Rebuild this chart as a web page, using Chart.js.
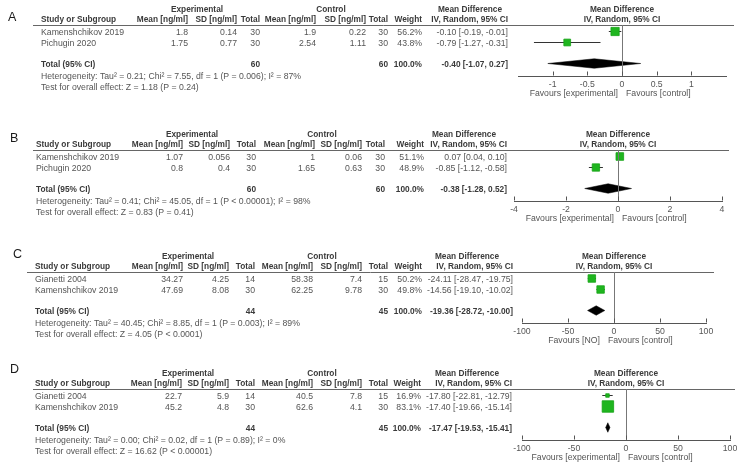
<!DOCTYPE html>
<html>
<head>
<meta charset="utf-8">
<script src="https://cdn.jsdelivr.net/npm/chart.js@4.4.1/dist/chart.umd.min.js"></script>
<style>
  html, body { margin: 0; padding: 0; background: #fff; }
  #wrap { position: relative; width: 744px; height: 467px; overflow: hidden; }
  canvas { position: absolute; left: 0; }
</style>
</head>
<body>
<div id="wrap"></div>
<script>
// ---- data ----
const studiesA = ['Kamenshchikov 2019', 'Pichugin 2020'];
const expMeanA = [1.8, 1.75], expSdA = [0.14, 0.77], expNA = [30, 30];
const ctlMeanA = [1.9, 2.54], ctlSdA = [0.22, 1.11], ctlNA = [30, 30];
const weightA = [56.2, 43.8];
const mdA = [-0.10, -0.79], loA = [-0.19, -1.27], hiA = [-0.01, -0.31];
const totalA = [-0.40, -1.07, 0.27];
const totalNA = [60, 60];
const hetA = 'Heterogeneity: Tau\u00b2 = 0.21; Chi\u00b2 = 7.55, df = 1 (P = 0.006); I\u00b2 = 87%';
const testA = 'Test for overall effect: Z = 1.18 (P = 0.24)';
const ticksA = [-1, -0.5, 0, 0.5, 1];

const studiesB = ['Kamenshchikov 2019', 'Pichugin 2020'];
const expMeanB = [1.07, 0.8], expSdB = [0.056, 0.4], expNB = [30, 30];
const ctlMeanB = [1, 1.65], ctlSdB = [0.06, 0.63], ctlNB = [30, 30];
const weightB = [51.1, 48.9];
const mdB = [0.07, -0.85], loB = [0.04, -1.12], hiB = [0.10, -0.58];
const totalB = [-0.38, -1.28, 0.52];
const totalNB = [60, 60];
const hetB = 'Heterogeneity: Tau\u00b2 = 0.41; Chi\u00b2 = 45.05, df = 1 (P < 0.00001); I\u00b2 = 98%';
const testB = 'Test for overall effect: Z = 0.83 (P = 0.41)';
const ticksB = [-4, -2, 0, 2, 4];

const studiesC = ['Gianetti 2004', 'Kamenshchikov 2019'];
const expMeanC = [34.27, 47.69], expSdC = [4.25, 8.08], expNC = [14, 30];
const ctlMeanC = [58.38, 62.25], ctlSdC = [7.4, 9.78], ctlNC = [15, 30];
const weightC = [50.2, 49.8];
const mdC = [-24.11, -14.56], loC = [-28.47, -19.10], hiC = [-19.75, -10.02];
const totalC = [-19.36, -28.72, -10.00];
const totalNC = [44, 45];
const hetC = 'Heterogeneity: Tau\u00b2 = 40.45; Chi\u00b2 = 8.85, df = 1 (P = 0.003); I\u00b2 = 89%';
const testC = 'Test for overall effect: Z = 4.05 (P < 0.0001)';
const ticksC = [-100, -50, 0, 50, 100];

const studiesD = ['Gianetti 2004', 'Kamenshchikov 2019'];
const expMeanD = [22.7, 45.2], expSdD = [5.9, 4.8], expND = [14, 30];
const ctlMeanD = [40.5, 62.6], ctlSdD = [7.8, 4.1], ctlND = [15, 30];
const weightD = [16.9, 83.1];
const mdD = [-17.80, -17.40], loD = [-22.81, -19.66], hiD = [-12.79, -15.14];
const totalD = [-17.47, -19.53, -15.41];
const totalND = [44, 45];
const hetD = 'Heterogeneity: Tau\u00b2 = 0.00; Chi\u00b2 = 0.02, df = 1 (P = 0.89); I\u00b2 = 0%';
const testD = 'Test for overall effect: Z = 16.62 (P < 0.00001)';
const ticksD = [-100, -50, 0, 50, 100];

const favoursExp = ['Favours [experimental]', 'Favours [experimental]', 'Favours [NO]', 'Favours [experimental]'];
const favoursCtl = 'Favours [control]';

// ---- layout (pixels) ----
const FONT = '"Liberation Sans", Arial, sans-serif';
const ROW = 11;            // px between study rows
const TOTAL_ROW = 2.91;    // total row, in row units
const XS_H = 14;           // height of x scale box

const panels = [
  { label: 'A', top: 0, h: 112, line: 25, letter: [8, 17.5], axis: [518, 726], range: [-1.5, 1.5], split: 0,
    cols: { start: 33, end: 734, study: 41, eM: 188, eS: 237, eN: 260, cM: 316, cS: 366, cN: 388, w: 422, ci: 508, exp: 197, ctl: 331, md: 470 },
    studies: studiesA, eMean: expMeanA, eSd: expSdA, eN: expNA, cMean: ctlMeanA, cSd: ctlSdA, cN: ctlNA,
    weight: weightA, md: mdA, lo: loA, hi: hiA, total: totalA, totalN: totalNA, het: hetA, test: testA, ticks: ticksA },
  { label: 'B', top: 112, h: 116, line: 150, letter: [10, 139], axis: [514, 722], range: [-4, 4], split: 0,
    cols: { start: 33, end: 729, study: 36, eM: 183, eS: 230, eN: 256, cM: 315, cS: 362, cN: 385, w: 424, ci: 507, exp: 192, ctl: 322, md: 464 },
    studies: studiesB, eMean: expMeanB, eSd: expSdB, eN: expNB, cMean: ctlMeanB, cSd: ctlSdB, cN: ctlNB,
    weight: weightB, md: mdB, lo: loB, hi: hiB, total: totalB, totalN: totalNB, het: hetB, test: testB, ticks: ticksB },
  { label: 'C', top: 228, h: 117, line: 272, letter: [13, 255], axis: [522, 706], range: [-100, 100], split: -11,
    cols: { start: 27, end: 714, study: 35, eM: 183, eS: 229, eN: 255, cM: 313, cS: 362, cN: 388, w: 422, ci: 513, exp: 188, ctl: 322, md: 467 },
    studies: studiesC, eMean: expMeanC, eSd: expSdC, eN: expNC, cMean: ctlMeanC, cSd: ctlSdC, cN: ctlNC,
    weight: weightC, md: mdC, lo: loC, hi: hiC, total: totalC, totalN: totalNC, het: hetC, test: testC, ticks: ticksC },
  { label: 'D', top: 345, h: 122, line: 389, letter: [10, 370], axis: [522, 730], range: [-100, 100], split: -2,
    cols: { start: 33, end: 735, study: 35, eM: 182, eS: 229, eN: 255, cM: 313, cS: 362, cN: 388, w: 421, ci: 512, exp: 188, ctl: 322, md: 467 },
    studies: studiesD, eMean: expMeanD, eSd: expSdD, eN: expND, cMean: ctlMeanD, cSd: ctlSdD, cN: ctlND,
    weight: weightD, md: mdD, lo: loD, hi: hiD, total: totalD, totalN: totalND, het: hetD, test: testD, ticks: ticksD }
];

const fmt2 = v => v.toFixed(2);
const ciText = (m, l, h) => `${fmt2(m)} [${fmt2(l)}, ${fmt2(h)}]`;

function tableText(P) {
  return {
    id: 'tableText' + P.label,
    afterDraw(chart) {
      const ctx = chart.ctx, xs = chart.scales.x, ys = chart.scales.y, area = chart.chartArea, c = P.cols;
      const reg = '8.7px ' + FONT, bold = 'bold 8.3px ' + FONT;
      const txt = (s, x, y, align, font, col) => {
        ctx.font = font; ctx.textAlign = align; ctx.fillStyle = col; ctx.fillText(s, x, y);
      };
      ctx.save();
      ctx.textBaseline = 'middle';

      // panel letter
      txt(P.label, P.letter[0], P.letter[1] - P.top, 'left', '12.5px ' + FONT, '#1a1a1a');

      // header rule
      const ly = Math.round(area.top) + 0.5;
      ctx.strokeStyle = '#666'; ctx.lineWidth = 1;
      ctx.beginPath(); ctx.moveTo(c.start, ly); ctx.lineTo(c.end, ly); ctx.stroke();

      // line of no effect
      const x0 = Math.round(xs.getPixelForValue(0)) + 0.5;
      ctx.strokeStyle = '#777';
      ctx.beginPath(); ctx.moveTo(x0, area.top); ctx.lineTo(x0, area.bottom); ctx.stroke();

      // tick marks pointing up
      const by = Math.round(area.bottom) - 0.5;
      ctx.strokeStyle = '#555';
      ctx.beginPath();
      xs.ticks.forEach(t => {
        const x = Math.round(xs.getPixelForValue(t.value)) + 0.5;
        ctx.moveTo(x, by); ctx.lineTo(x, by - 4);
      });
      ctx.stroke();

      // headers
      const hk = '#3a3a3a', tk = '#555';
      const h1 = area.top - 15, h2 = area.top - 5;
      txt('Experimental', c.exp, h1, 'center', bold, hk);
      txt('Control', c.ctl, h1, 'center', bold, hk);
      txt('Mean Difference', c.md, h1, 'center', bold, hk);
      txt('Mean Difference', xs.getPixelForValue(0), h1, 'center', bold, hk);
      txt('Study or Subgroup', c.study, h2, 'left', bold, hk);
      txt('Mean [ng/ml]', c.eM, h2, 'right', bold, hk);
      txt('SD [ng/ml]', c.eS, h2, 'right', bold, hk);
      txt('Total', c.eN, h2, 'right', bold, hk);
      txt('Mean [ng/ml]', c.cM, h2, 'right', bold, hk);
      txt('SD [ng/ml]', c.cS, h2, 'right', bold, hk);
      txt('Total', c.cN, h2, 'right', bold, hk);
      txt('Weight', c.w, h2, 'right', bold, hk);
      txt('IV, Random, 95% CI', c.ci, h2, 'right', bold, hk);
      txt('IV, Random, 95% CI', xs.getPixelForValue(0), h2, 'center', bold, hk);

      // study rows
      P.studies.forEach((s, i) => {
        const y = ys.getPixelForValue(i) + 1.5;
        txt(s, c.study, y, 'left', reg, tk);
        txt(String(P.eMean[i]), c.eM, y, 'right', reg, tk);
        txt(String(P.eSd[i]), c.eS, y, 'right', reg, tk);
        txt(String(P.eN[i]), c.eN, y, 'right', reg, tk);
        txt(String(P.cMean[i]), c.cM, y, 'right', reg, tk);
        txt(String(P.cSd[i]), c.cS, y, 'right', reg, tk);
        txt(String(P.cN[i]), c.cN, y, 'right', reg, tk);
        txt(P.weight[i].toFixed(1) + '%', c.w, y, 'right', reg, tk);
        txt(ciText(P.md[i], P.lo[i], P.hi[i]), c.ci, y, 'right', reg, tk);
      });

      // total row
      const ty = ys.getPixelForValue(TOTAL_ROW) + 1;
      txt('Total (95% CI)', c.study, ty, 'left', bold, hk);
      txt(String(P.totalN[0]), c.eN, ty, 'right', bold, hk);
      txt(String(P.totalN[1]), c.cN, ty, 'right', bold, hk);
      txt('100.0%', c.w, ty, 'right', bold, hk);
      txt(ciText(P.total[0], P.total[1], P.total[2]), c.ci, ty, 'right', bold, hk);
      txt(P.het, c.study, ty + 12.5, 'left', reg, tk);
      txt(P.test, c.study, ty + 23, 'left', reg, tk);

      // favours labels
      const sx = xs.getPixelForValue(P.split), fy = area.bottom + 17.5;
      txt(favoursExp[panels.indexOf(P)], sx - 4, fy, 'right', reg, tk);
      txt(favoursCtl, sx + 4, fy, 'left', reg, tk);
      ctx.restore();
    }
  };
}

function buildPanel(P) {
  const cv = document.createElement('canvas');
  cv.width = 744; cv.height = P.h;
  cv.style.top = P.top + 'px';
  document.getElementById('wrap').appendChild(cv);

  const padTop = P.line - P.top;
  const axisLocal = P.line + 51 - P.top;
  const padBottom = P.h - axisLocal - XS_H;
  const firstY = 6.5 / ROW;

  const datasets = [];
  // squares first so they sit on top of the CI lines
  datasets.push({
    data: P.md.map((m, i) => ({ x: m, y: i })),
    pointStyle: 'rect',
    pointRadius: P.weight.map(w => (w * 0.12 + 1.5) / Math.SQRT2),
    backgroundColor: '#1fb51f', borderColor: '#17a317', borderWidth: 0.8
  });
  P.md.forEach((m, i) => {
    datasets.push({
      data: [{ x: P.lo[i], y: i }, { x: P.hi[i], y: i }],
      showLine: true, borderColor: '#333', borderWidth: 1, pointRadius: 0
    });
  });
  const t = P.total, dh = 0.43;
  datasets.push({
    data: [
      { x: t[1], y: TOTAL_ROW }, { x: t[0], y: TOTAL_ROW - dh },
      { x: t[2], y: TOTAL_ROW }, { x: t[0], y: TOTAL_ROW + dh }, { x: t[1], y: TOTAL_ROW }
    ],
    showLine: true, fill: 'shape', backgroundColor: '#000', borderColor: '#000',
    borderWidth: 0.5, pointRadius: 0, tension: 0
  });

  new Chart(cv, {
    type: 'scatter',
    data: { datasets },
    options: {
      responsive: false, animation: false, events: [],
      layout: { padding: { left: P.axis[0], right: 744 - P.axis[1], top: padTop, bottom: padBottom } },
      plugins: { legend: { display: false }, tooltip: { enabled: false } },
      scales: {
        x: {
          type: 'linear', min: P.range[0], max: P.range[1],
          afterBuildTicks: s => { s.ticks = P.ticks.map(v => ({ value: v })); },
          afterFit: s => { s.height = XS_H; },
          grid: { display: false, drawTicks: false },
          border: { display: true, color: '#555', width: 1 },
          ticks: { color: '#555', padding: 3, font: { family: FONT, size: 8.7 }, callback: v => String(v), maxRotation: 0 }
        },
        y: { type: 'linear', display: false, reverse: true, min: -firstY, max: 51 / ROW - firstY }
      }
    },
    plugins: [tableText(P)]
  });
}

panels.forEach(buildPanel);
</script>
</body>
</html>
